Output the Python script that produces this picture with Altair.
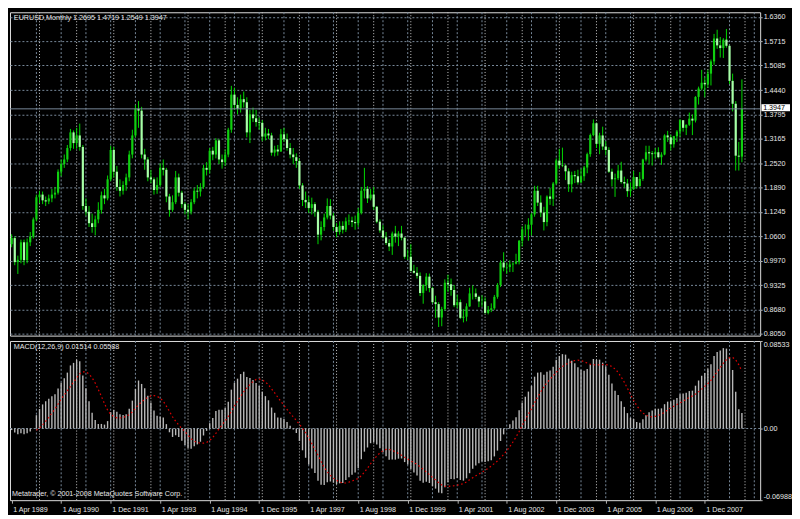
import altair as alt
import pandas as pd

# ---------------- data (EURUSD monthly, Apr 1989 .. Dec 2008) ----------------
closes = [
    1.056, 0.993, 0.999, 1.045, 0.998, 1.045, 1.060, 1.105, 1.163,
    1.170, 1.155, 1.152, 1.160, 1.170, 1.175, 1.230, 1.250, 1.262, 1.292, 1.333, 1.305,
    1.325, 1.295, 1.140, 1.125, 1.095, 1.085, 1.105, 1.130, 1.168, 1.160, 1.210, 1.287,
    1.230, 1.190, 1.180, 1.195, 1.215, 1.275, 1.325, 1.395, 1.390, 1.275, 1.262, 1.215,
    1.210, 1.182, 1.195, 1.240, 1.235, 1.165, 1.130, 1.150, 1.215, 1.175, 1.145, 1.130,
    1.125, 1.150, 1.180, 1.178, 1.190, 1.240, 1.235, 1.285, 1.275, 1.312, 1.262, 1.255,
    1.275, 1.340, 1.432, 1.405, 1.395, 1.420, 1.412, 1.333, 1.380, 1.370, 1.360, 1.358,
    1.322, 1.330, 1.325, 1.280, 1.288, 1.283, 1.328, 1.315, 1.292, 1.275, 1.268, 1.258,
    1.194, 1.156, 1.150, 1.135, 1.145, 1.125, 1.065, 1.085, 1.110, 1.140, 1.115, 1.085,
    1.072, 1.088, 1.078, 1.100, 1.102, 1.098, 1.095, 1.122, 1.180, 1.185, 1.160, 1.170,
    1.138, 1.099, 1.076, 1.058, 1.043, 1.034, 1.068, 1.060, 1.068, 1.057, 1.007, 1.007,
    0.970, 0.965, 0.957, 0.912, 0.933, 0.955, 0.925, 0.888, 0.883, 0.848, 0.870, 0.939,
    0.935, 0.920, 0.880, 0.888, 0.847, 0.850, 0.877, 0.911, 0.911, 0.902, 0.890, 0.890,
    0.860, 0.868, 0.872, 0.902, 0.933, 0.992, 0.979, 0.980, 0.987, 0.989, 0.994, 1.049,
    1.079, 1.079, 1.091, 1.118, 1.180, 1.149, 1.123, 1.098, 1.165, 1.159, 1.199, 1.259,
    1.247, 1.246, 1.231, 1.197, 1.221, 1.218, 1.202, 1.218, 1.241, 1.276, 1.326, 1.357,
    1.303, 1.325, 1.296, 1.287, 1.230, 1.210, 1.213, 1.233, 1.203, 1.199, 1.179, 1.184,
    1.216, 1.192, 1.211, 1.262, 1.281, 1.278, 1.276, 1.281, 1.268, 1.275, 1.325, 1.320,
    1.302, 1.323, 1.335, 1.365, 1.345, 1.353, 1.369, 1.364, 1.426, 1.448, 1.463, 1.459,
    1.487, 1.519, 1.579, 1.561, 1.554, 1.576, 1.560, 1.468, 1.408, 1.272, 1.2695, 1.3947,
]
highs = [
    1.066, 1.060, 1.010, 1.052, 1.052, 1.055, 1.072, 1.110, 1.170,
    1.180, 1.178, 1.165, 1.170, 1.185, 1.190, 1.236, 1.262, 1.275, 1.300, 1.342, 1.338,
    1.345, 1.356, 1.300, 1.160, 1.140, 1.120, 1.115, 1.150, 1.178, 1.185, 1.220, 1.298,
    1.295, 1.245, 1.210, 1.205, 1.225, 1.285, 1.340, 1.405, 1.415, 1.400, 1.290, 1.268,
    1.235, 1.215, 1.215, 1.252, 1.262, 1.240, 1.172, 1.168, 1.232, 1.225, 1.180, 1.150,
    1.145, 1.158, 1.188, 1.195, 1.200, 1.248, 1.255, 1.292, 1.295, 1.318, 1.315, 1.275,
    1.288, 1.345, 1.455, 1.450, 1.425, 1.432, 1.440, 1.425, 1.392, 1.398, 1.392, 1.372,
    1.365, 1.345, 1.342, 1.332, 1.298, 1.300, 1.342, 1.345, 1.330, 1.305, 1.292, 1.278,
    1.265, 1.200, 1.178, 1.165, 1.162, 1.150, 1.130, 1.100, 1.120, 1.160, 1.158, 1.122,
    1.095, 1.100, 1.100, 1.110, 1.118, 1.112, 1.115, 1.135, 1.190, 1.240, 1.192, 1.185,
    1.190, 1.140, 1.105, 1.090, 1.072, 1.053, 1.073, 1.088, 1.074, 1.088, 1.058, 1.026,
    1.040, 0.986, 0.980, 0.966, 0.935, 0.964, 0.963, 0.928, 0.905, 0.888, 0.876, 0.948,
    0.960, 0.950, 0.933, 0.908, 0.895, 0.870, 0.885, 0.926, 0.932, 0.924, 0.905, 0.906,
    0.901, 0.878, 0.885, 0.907, 0.938, 0.998, 1.019, 0.992, 0.998, 0.993, 1.015, 1.051,
    1.087, 1.092, 1.108, 1.122, 1.193, 1.193, 1.168, 1.138, 1.168, 1.188, 1.203, 1.265,
    1.290, 1.293, 1.249, 1.239, 1.230, 1.232, 1.235, 1.238, 1.245, 1.280, 1.330, 1.367,
    1.358, 1.332, 1.348, 1.310, 1.294, 1.238, 1.225, 1.248, 1.256, 1.217, 1.211, 1.202,
    1.232, 1.216, 1.229, 1.264, 1.298, 1.298, 1.284, 1.292, 1.294, 1.281, 1.328, 1.337,
    1.327, 1.324, 1.339, 1.368, 1.364, 1.354, 1.385, 1.380, 1.428, 1.453, 1.497, 1.477,
    1.497, 1.524, 1.591, 1.602, 1.583, 1.580, 1.604, 1.561, 1.487, 1.415, 1.308, 1.4719,
]
lows = [
    1.032, 0.985, 0.962, 0.990, 0.985, 0.990, 1.035, 1.055, 1.100,
    1.148, 1.145, 1.140, 1.145, 1.150, 1.160, 1.170, 1.218, 1.240, 1.255, 1.285, 1.290,
    1.290, 1.285, 1.130, 1.115, 1.085, 1.070, 1.063, 1.095, 1.120, 1.145, 1.155, 1.205,
    1.215, 1.180, 1.165, 1.170, 1.180, 1.205, 1.265, 1.320, 1.345, 1.265, 1.235, 1.205,
    1.200, 1.170, 1.172, 1.190, 1.220, 1.150, 1.112, 1.125, 1.145, 1.165, 1.135, 1.118,
    1.105, 1.118, 1.145, 1.160, 1.165, 1.185, 1.220, 1.225, 1.260, 1.265, 1.250, 1.238,
    1.245, 1.268, 1.332, 1.392, 1.380, 1.385, 1.398, 1.320, 1.305, 1.360, 1.348, 1.340,
    1.310, 1.312, 1.315, 1.272, 1.270, 1.272, 1.282, 1.308, 1.285, 1.265, 1.250, 1.240,
    1.185, 1.140, 1.135, 1.122, 1.118, 1.112, 1.040, 1.050, 1.075, 1.105, 1.105, 1.075,
    1.058, 1.065, 1.068, 1.072, 1.090, 1.085, 1.078, 1.085, 1.118, 1.160, 1.148, 1.155,
    1.130, 1.095, 1.070, 1.055, 1.038, 1.022, 1.012, 1.044, 1.035, 1.050, 1.002, 0.999,
    0.968, 0.963, 0.950, 0.904, 0.884, 0.918, 0.914, 0.885, 0.847, 0.823, 0.825, 0.866,
    0.915, 0.905, 0.875, 0.872, 0.844, 0.835, 0.838, 0.876, 0.895, 0.896, 0.875, 0.876,
    0.858, 0.856, 0.862, 0.868, 0.897, 0.928, 0.969, 0.962, 0.967, 0.967, 0.987, 0.987,
    1.034, 1.062, 1.049, 1.063, 1.112, 1.140, 1.111, 1.076, 1.087, 1.143, 1.140, 1.196,
    1.238, 1.242, 1.208, 1.177, 1.176, 1.200, 1.196, 1.200, 1.206, 1.226, 1.269, 1.323,
    1.292, 1.276, 1.287, 1.273, 1.227, 1.191, 1.164, 1.208, 1.199, 1.188, 1.164, 1.165,
    1.183, 1.186, 1.191, 1.206, 1.257, 1.249, 1.246, 1.264, 1.265, 1.248, 1.273, 1.308,
    1.286, 1.293, 1.308, 1.321, 1.335, 1.326, 1.350, 1.326, 1.359, 1.406, 1.443, 1.425,
    1.450, 1.456, 1.510, 1.552, 1.529, 1.528, 1.555, 1.460, 1.388, 1.233, 1.233, 1.2549,
]
first_open = 1.040
opens = [first_open] + closes[:-1]

# MACD(12,26,9) main line, in units of 0.00001, read month by month
macd_x1e5 = [
    -150, -400, -550, -450, -550, -450, -300, -20, 1300,
    1900, 2350, 2650, 2900, 3150, 3350, 3900, 4450, 4900, 5450, 6150, 6400,
    6680, 6552, 5174, 3917, 2647, 1543, 820, 443, 446, 379, 722, 1596,
    1808, 1635, 1400, 1320, 1402, 1929, 2719, 3865, 4679, 4346, 3932, 3188,
    2528, 1760, 1241, 1180, 1078, 428, -366, -824, -655, -834, -1204, -1600,
    -1932, -1970, -1739, -1550, -1290, -680, -230, 520, 1030, 1710, 1820, 1840,
    1990, 2600, 3790, 4460, 4860, 5310, 5540, 5026, 4932, 4730, 4438, 4143,
    3578, 3158, 2753, 2045, 1531, 1071, 1058, 931, 638, 266, -85, -439,
    -1221, -2124, -2854, -3514, -3911, -4337, -5100, -5480, -5516, -5242, -5167, -5288,
    -5427, -5346, -5302, -5031, -4746, -4500, -4280, -3844, -2995, -2256, -1851, -1433,
    -1344, -1571, -1914, -2304, -2703, -3057, -3028, -3035, -2942, -2923, -3274, -3511,
    -3953, -4293, -4575, -5102, -5290, -5201, -5312, -5633, -5860, -6251, -6310, -5734,
    -5250, -4930, -4942, -4831, -5017, -5081, -4858, -4357, -3914, -3595, -3399, -3207,
    -3260, -3200, -3085, -2720, -2156, -1219, -574, -55, 409, 783, 1107, 1788,
    2539, 3100, 3599, 4164, 5055, 5447, 5485, 5253, 5546, 5664, 6011, 6694,
    7056, 7252, 7203, 6811, 6618, 6367, 5971, 5719, 5641, 5794, 6248, 6779,
    6687, 6714, 6427, 6058, 5245, 4388, 3691, 3262, 2650, 2108, 1500, 1046,
    934, 644, 562, 897, 1301, 1579, 1763, 1927, 1929, 1965, 2370, 2620,
    2643, 2798, 2983, 3333, 3411, 3496, 3651, 3690, 4174, 4681, 5144, 5417,
    5792, 6275, 7061, 7452, 7618, 7837, 7791, 6933, 5703, 3589, 1872, 1504,
]

price_levels = [1.6360, 1.5715, 1.5085, 1.4440, 1.3795, 1.3165, 1.2520, 1.1890,
                1.1245, 1.0600, 0.9970, 0.9325, 0.8680, 0.8050]
macd_levels = [0.08533, 0.0, -0.06988]
label_months = list(range(0, 225, 16))      # 1 Apr 1989, 1 Aug 1990, ...
grid_8 = list(range(8, 241, 8))             # grid every 8 bars
grid_jan = list(range(9, 240, 12))          # yearly separators (January)

price_header = "EURUSD,Monthly  1.2695 1.4719 1.2549 1.3947"
macd_header = "MACD(12,26,9) 0.01514 0.05588"
footer = "Metatrader, \u00a9 2001-2008 MetaQuotes Software Corp."
bid_price = 1.3947

n = len(closes)
idx = list(range(n))

# ---------------- style ----------------
W, H1, H2 = 754, 325, 160
FONT = "Liberation Sans"
FS = 7.2
GRID = "#778899"
GRID2 = "#c8c8c8"
FG = "#e6e6e6"
BORDER = "#b4b4b4"
WICK = "#00d800"
UP = "#10d010"
DOWN = "#a8ffa8"
HIST = "#b8b8b8"
RED = "#e00000"

X_DOMAIN = [-0.54, 241.9]
P_DOMAIN = [0.8004, 1.6478]
M_DOMAIN = [-0.06988, 0.08533]

candles = pd.DataFrame({"i": idx, "open": opens, "high": highs, "low": lows, "close": closes})
macd_df = pd.DataFrame({"i": idx, "macd": [v / 1e5 for v in macd_x1e5]})
vg_a = pd.DataFrame({"i": grid_8})
vg_b = pd.DataFrame({"i": grid_jan})

xs = alt.Scale(domain=X_DOMAIN, nice=False, zero=False)
ps = alt.Scale(domain=P_DOMAIN, nice=False, zero=False)
ms = alt.Scale(domain=M_DOMAIN, nice=False, zero=False)

price_axis = alt.Axis(orient="right", values=price_levels, format=".4f", grid=True,
                      gridColor=GRID, gridDash=[2, 2], gridWidth=1, tickSize=2,
                      tickColor=BORDER, labelPadding=1, labelColor=FG, labelFont=FONT,
                      labelFontSize=FS, domain=False, title=None, labelOverlap=False,
                      labelBound=False)
macd_axis = alt.Axis(orient="right", values=macd_levels,
                     labelExpr="datum.value == 0 ? '0.00' : (datum.value < 0 ? '-' + format(-datum.value, '.5f') : format(datum.value, '.5f'))",
                     grid=False, tickSize=2, tickColor=BORDER, labelPadding=1, labelFlush=True,
                     labelColor=FG, labelFont=FONT, labelFontSize=FS, domain=False, title=None,
                     labelOverlap=False, labelBound=False)
time_axis = alt.Axis(values=label_months,
                     labelExpr="timeFormat(datetime(1989, 3 + datum.value, 1), '%-d %b %Y')",
                     labelAlign="left", labelOffset=1, tickSize=3, tickColor=BORDER,
                     labelPadding=2, grid=False, domain=False, labelColor=FG, labelFont=FONT,
                     labelFontSize=FS, labelOverlap=False, labelBound=False, title=None)


def xp():
    return alt.X("i:Q", scale=xs, axis=None)


def xm():
    return alt.X("i:Q", scale=xs, axis=time_axis)


# ---------------- price panel ----------------
pg_a = alt.Chart(vg_a).mark_rule(color=GRID, strokeDash=[2, 2]).encode(x=xp())
pg_b = alt.Chart(vg_b).mark_rule(color=GRID2, strokeDash=[1, 2]).encode(x=xp())
wicks = alt.Chart(candles).mark_rule(color=WICK, strokeWidth=1).encode(
    x=xp(), y=alt.Y("low:Q", scale=ps, axis=price_axis), y2="high:Q")
bodies = alt.Chart(candles).mark_rule(strokeWidth=2.2).encode(
    x=xp(), y=alt.Y("open:Q", scale=ps, axis=price_axis), y2="close:Q",
    color=alt.condition("datum.close >= datum.open", alt.value(UP), alt.value(DOWN)))
bid_df = pd.DataFrame({"p": [bid_price], "top": [bid_price + 0.0122],
                       "bot": [bid_price - 0.0062], "tp": [bid_price + 0.0030],
                       "label": ["1.3947"]})
bid_line = alt.Chart(bid_df).mark_rule(color=GRID, strokeWidth=1).encode(
    y=alt.Y("p:Q", scale=ps, axis=price_axis))
bid_box = alt.Chart(bid_df).mark_rect(color="white").encode(
    x=alt.value(W + 1.3), x2=alt.value(W + 30),
    y=alt.Y("top:Q", scale=ps, axis=price_axis), y2="bot:Q")
bid_text = alt.Chart(bid_df).mark_text(align="left", baseline="middle", color="black",
                                       font=FONT, fontSize=FS).encode(
    x=alt.value(W + 3), y=alt.Y("tp:Q", scale=ps, axis=price_axis), text="label:N")
p_head = alt.Chart(pd.DataFrame({"t": [price_header]})).mark_text(
    align="left", baseline="middle", color=FG, font=FONT, fontSize=FS).encode(
    x=alt.value(3.9), y=alt.value(6.1), text="t:N")

price_panel = alt.layer(pg_a, pg_b, wicks, bodies, bid_line, p_head, bid_box, bid_text).properties(
    width=W, height=H1)

# ---------------- MACD panel ----------------
mg_a = alt.Chart(vg_a).mark_rule(color=GRID, strokeDash=[2, 2]).encode(x=xm())
mg_b = alt.Chart(vg_b).mark_rule(color=GRID2, strokeDash=[1, 2]).encode(x=xm())
zero = alt.Chart(pd.DataFrame({"v": [0.0]})).mark_rule(color=GRID, strokeDash=[2, 2]).encode(
    y=alt.Y("v:Q", scale=ms, axis=macd_axis))
hist = alt.Chart(macd_df).mark_rule(color=HIST, strokeWidth=1.4).encode(
    x=xm(), y=alt.Y("macd:Q", scale=ms, axis=macd_axis), y2=alt.datum(0))
signal = alt.Chart(macd_df).transform_window(
    signal="mean(macd)", frame=[-8, 0], sort=[{"field": "i"}]
).transform_filter("datum.i >= 8").mark_line(
    color=RED, strokeDash=[1.6, 2.6], strokeWidth=1.2).encode(
    x=xm(), y=alt.Y("signal:Q", scale=ms, axis=macd_axis))
m_head = alt.Chart(pd.DataFrame({"t": [macd_header]})).mark_text(
    align="left", baseline="middle", color=FG, font=FONT, fontSize=FS).encode(
    x=alt.value(3.9), y=alt.value(6.5), text="t:N")
m_foot = alt.Chart(pd.DataFrame({"t": [footer]})).mark_text(
    align="left", baseline="middle", color=FG, font=FONT, fontSize=FS).encode(
    x=alt.value(2), y=alt.value(154), text="t:N")

macd_panel = alt.layer(mg_a, mg_b, zero, hist, signal, m_head, m_foot).properties(
    width=W, height=H2)

chart = alt.vconcat(price_panel, macd_panel, spacing=2.4).properties(
    background="black", padding={"left": 1, "top": 2, "right": 0, "bottom": 0}
).configure_view(stroke=BORDER, strokeWidth=1).configure(font=FONT)

chart.save("out.html", embed_options={"renderer": "svg", "actions": False})
